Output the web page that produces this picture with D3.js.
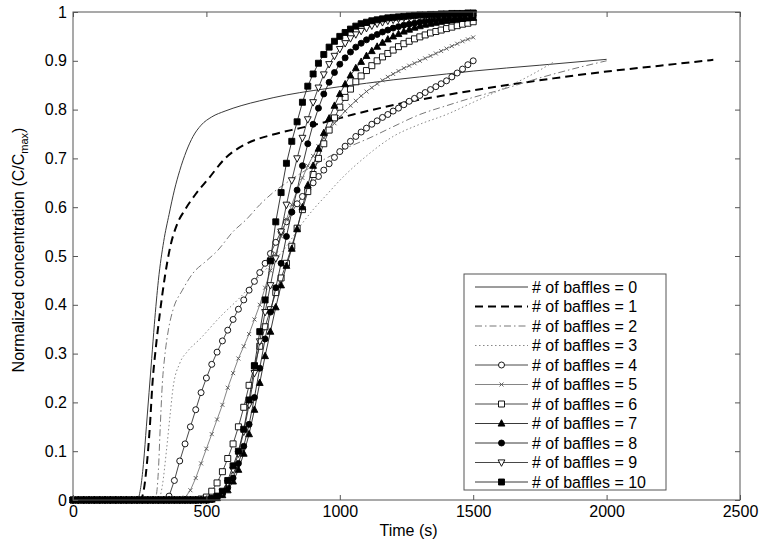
<!DOCTYPE html>
<html><head><meta charset="utf-8">
<script src="https://cdn.jsdelivr.net/npm/d3@7"></script>
<style>body{margin:0;background:#fff} svg{display:block} text{font-family:"Liberation Sans",Arial,Helvetica,sans-serif;fill:#000}</style>
</head><body><svg id="c" width="761" height="541"></svg>
<script>
// ---------- data ----------
const xTicks = [0, 500, 1000, 1500, 2000, 2500];
const yTicks = [0, 0.1, 0.2, 0.3, 0.4, 0.5, 0.6, 0.7, 0.8, 0.9, 1];
const seriesNames = ["# of baffles = 0","# of baffles = 1","# of baffles = 2","# of baffles = 3","# of baffles = 4","# of baffles = 5","# of baffles = 6","# of baffles = 7","# of baffles = 8","# of baffles = 9","# of baffles = 10"];

// line-only series (irregular sampling)
const b0T = [0,230,245,255,265,275,285,295,305,320,340,360,380,400,425,450,480,520,570,630,700,800,900,1000,1100,1200,1300,1400,1500,1750,2000];
const b0C = [0,0,0.005,0.03,0.08,0.15,0.22,0.29,0.36,0.45,0.53,0.585,0.635,0.675,0.715,0.745,0.768,0.785,0.797,0.808,0.818,0.83,0.839,0.847,0.854,0.861,0.867,0.873,0.879,0.891,0.903];
const b1T = [0,245,258,268,278,288,298,310,325,345,365,390,420,460,510,570,650,750,850,950,1050,1150,1250,1400,1600,1800,2000,2200,2400];
const b1C = [0,0,0.005,0.03,0.08,0.15,0.24,0.31,0.38,0.46,0.52,0.565,0.595,0.627,0.66,0.7,0.73,0.749,0.762,0.775,0.79,0.803,0.815,0.83,0.848,0.864,0.878,0.89,0.902];
const b2T = [0,300,312,320,327,335,345,358,375,410,450,500,540,600,650,700,750,800,900,1000,1124,1200,1300,1400,1500,1600,1750,1900,2000];
const b2C = [0,0,0.01,0.06,0.15,0.24,0.3,0.35,0.39,0.43,0.465,0.49,0.51,0.55,0.575,0.605,0.63,0.65,0.685,0.715,0.745,0.765,0.79,0.808,0.825,0.84,0.865,0.887,0.9];
const b3T = [0,320,335,350,365,375,400,430,476,551,626,701,800,850,900,950,1000,1100,1200,1300,1400,1500,1600,1700,1800];
const b3C = [0,0,0.03,0.1,0.18,0.23,0.28,0.305,0.33,0.375,0.415,0.46,0.52,0.56,0.595,0.625,0.655,0.705,0.745,0.77,0.79,0.815,0.84,0.866,0.897];

// marker series, sampled every 20 s from 0 to 1500 s
const time20 = [0,20,40,60,80,100,120,140,160,180,
  200,220,240,260,280,300,320,340,360,380,
  400,420,440,460,480,500,520,540,560,580,
  600,620,640,660,680,700,720,740,760,780,
  800,820,840,860,880,900,920,940,960,980,
  1000,1020,1040,1060,1080,1100,1120,1140,1160,1180,
  1200,1220,1240,1260,1280,1300,1320,1340,1360,1380,
  1400,1420,1440,1460,1480,1500];
const b4C = [0,0,0,0,0,0,0,0,0,0,
  0,0,0,0,0,0,0,0,0.008,0.04,
  0.08,0.115,0.15,0.185,0.22,0.25,0.278,0.303,0.326,0.348,
  0.37,0.391,0.41,0.43,0.448,0.466,0.485,0.505,0.528,0.55,
  0.57,0.59,0.607,0.622,0.637,0.65,0.663,0.676,0.689,0.702,
  0.714,0.725,0.735,0.745,0.754,0.762,0.77,0.777,0.784,0.79,
  0.797,0.803,0.81,0.817,0.823,0.829,0.835,0.841,0.847,0.853,
  0.859,0.867,0.875,0.883,0.892,0.9];
const b5C = [0,0,0,0,0,0,0,0,0,0,
  0,0,0,0,0,0,0,0,0,0,
  0,0.005,0.02,0.045,0.075,0.105,0.135,0.165,0.195,0.23,
  0.26,0.29,0.315,0.34,0.37,0.4,0.435,0.47,0.505,0.54,
  0.575,0.605,0.635,0.66,0.685,0.705,0.725,0.742,0.758,0.772,
  0.785,0.797,0.808,0.818,0.828,0.837,0.845,0.853,0.86,0.867,
  0.873,0.879,0.885,0.89,0.895,0.9,0.905,0.91,0.915,0.92,
  0.925,0.93,0.935,0.94,0.944,0.948];
const b6C = [0,0,0,0,0,0,0,0,0,0,
  0,0,0,0,0,0,0,0,0,0,
  0,0,0,0,0.002,0.006,0.018,0.035,0.058,0.085,
  0.115,0.15,0.19,0.235,0.275,0.315,0.355,0.39,0.425,0.455,
  0.485,0.52,0.557,0.595,0.632,0.667,0.7,0.73,0.758,0.783,
  0.805,0.825,0.842,0.857,0.869,0.88,0.89,0.9,0.908,0.915,
  0.922,0.929,0.935,0.94,0.945,0.949,0.953,0.957,0.96,0.963,
  0.966,0.969,0.972,0.975,0.977,0.98];
const b7C = [0,0,0,0,0,0,0,0,0,0,
  0,0,0,0,0,0,0,0,0,0,
  0,0,0,0,0,0,0.001,0.004,0.01,0.02,
  0.038,0.062,0.095,0.135,0.185,0.24,0.295,0.345,0.395,0.44,
  0.48,0.515,0.555,0.6,0.645,0.685,0.72,0.752,0.782,0.808,
  0.832,0.852,0.87,0.885,0.898,0.91,0.92,0.929,0.937,0.944,
  0.95,0.955,0.96,0.964,0.968,0.971,0.974,0.976,0.978,0.98,
  0.982,0.983,0.985,0.986,0.987,0.988];
const b8C = [0,0,0,0,0,0,0,0,0,0,
  0,0,0,0,0,0,0,0,0,0,
  0,0,0,0,0,0,0.001,0.005,0.012,0.025,
  0.045,0.075,0.11,0.155,0.21,0.27,0.33,0.385,0.435,0.485,
  0.54,0.59,0.635,0.685,0.73,0.77,0.803,0.832,0.856,0.876,
  0.893,0.906,0.918,0.928,0.936,0.943,0.949,0.954,0.959,0.963,
  0.967,0.97,0.973,0.975,0.977,0.979,0.981,0.982,0.984,0.985,
  0.986,0.987,0.988,0.989,0.99,0.99];
const b9C = [0,0,0,0,0,0,0,0,0,0,
  0,0,0,0,0,0,0,0,0,0,
  0,0,0,0,0,0,0.002,0.007,0.016,0.035,
  0.062,0.095,0.14,0.195,0.26,0.325,0.385,0.44,0.495,0.55,
  0.605,0.655,0.7,0.742,0.78,0.815,0.845,0.872,0.893,0.91,
  0.924,0.936,0.946,0.954,0.961,0.967,0.972,0.976,0.979,0.982,
  0.984,0.986,0.988,0.989,0.99,0.991,0.992,0.993,0.993,0.994,
  0.995,0.995,0.996,0.996,0.996,0.997];
const b10C = [0,0,0,0,0,0,0,0,0,0,
  0,0,0,0,0,0,0,0,0,0,
  0,0,0,0,0,0,0.003,0.008,0.018,0.04,
  0.07,0.1,0.145,0.205,0.275,0.345,0.41,0.49,0.57,0.63,
  0.69,0.735,0.775,0.815,0.848,0.873,0.895,0.913,0.928,0.94,
  0.95,0.958,0.965,0.971,0.976,0.979,0.982,0.984,0.986,0.988,
  0.989,0.99,0.991,0.992,0.993,0.994,0.994,0.995,0.995,0.996,
  0.996,0.997,0.997,0.997,0.998,0.998];

// ---------- chart ----------
const svg = d3.select("#c");
const L = 73, R = 740, T = 12, B = 500;
const x = d3.scaleLinear().domain([0, 2500]).range([L, R]);
const y = d3.scaleLinear().domain([0, 1]).range([B, T]);

const pts = (ts, cs) => cs.map((c, i) => [ts[i], c]).filter(d => d[0] !== undefined);

const series = [
  {data: pts(b0T, b0C), stroke: "#3a3a3a", width: 1, dash: null, curve: d3.curveMonotoneX},
  {data: pts(b1T, b1C), stroke: "#000", width: 2, dash: "8,5", curve: d3.curveMonotoneX},
  {data: pts(b2T, b2C), stroke: "#777", width: 1, dash: "7,3,1.5,3", curve: d3.curveMonotoneX},
  {data: pts(b3T, b3C), stroke: "#888", width: 1, dash: "1.5,2.5", curve: d3.curveMonotoneX},
  {data: pts(time20, b4C), stroke: "#333", width: 0.9, marker: "circle", fill: "#fff"},
  {data: pts(time20, b5C), stroke: "#777", width: 0.9, marker: "x", fill: "none"},
  {data: pts(time20, b6C), stroke: "#333", width: 0.9, marker: "square", fill: "#fff"},
  {data: pts(time20, b7C), stroke: "#222", width: 0.9, marker: "triUp", fill: "#000"},
  {data: pts(time20, b8C), stroke: "#222", width: 0.9, marker: "circle", fill: "#000"},
  {data: pts(time20, b9C), stroke: "#333", width: 0.9, marker: "triDown", fill: "#fff"},
  {data: pts(time20, b10C), stroke: "#222", width: 0.9, marker: "square", fill: "#000"}
];

function markerPath(type) {
  switch (type) {
    case "circle": return "M3,0A3,3 0 1,1 -3,0A3,3 0 1,1 3,0Z";
    case "square": return "M-3,-3H3V3H-3Z";
    case "triUp": return "M0,-3.8L3.4,2.6H-3.4Z";
    case "triDown": return "M0,3.8L3.4,-2.6H-3.4Z";
    case "x": return "M-2,-2L2,2M-2,2L2,-2";
  }
}

svg.append("rect").attr("x", L).attr("y", T).attr("width", R - L).attr("height", B - T)
  .attr("fill", "#fff").attr("stroke", "none");

const plot = svg.append("g");
series.forEach(s => {
  const line = d3.line().x(d => x(d[0])).y(d => y(d[1])).curve(s.curve || d3.curveLinear);
  plot.append("path").attr("d", line(s.data)).attr("fill", "none")
    .attr("stroke", s.stroke).attr("stroke-width", s.width)
    .attr("stroke-dasharray", s.dash);
  if (s.marker) {
    plot.selectAll(null).data(s.data).enter().append("path")
      .attr("transform", d => `translate(${x(d[0])},${y(d[1])})`)
      .attr("d", markerPath(s.marker))
      .attr("fill", s.fill).attr("stroke", s.marker === "x" ? "#555" : "#000")
      .attr("stroke-width", 0.9);
  }
});

const axCol = "#555";
const fs = "16px";
const gB = svg.append("g").attr("transform", `translate(0,${B})`)
  .call(d3.axisBottom(x).tickValues(xTicks).tickFormat(d3.format("d")).tickSizeInner(-5).tickSizeOuter(0).tickPadding(6));
const gT = svg.append("g").attr("transform", `translate(0,${T})`)
  .call(d3.axisTop(x).tickValues(xTicks).tickFormat("").tickSizeInner(-5).tickSizeOuter(0));
const gL = svg.append("g").attr("transform", `translate(${L},0)`)
  .call(d3.axisLeft(y).tickValues(yTicks).tickFormat(d => d === 0 ? "0" : d === 1 ? "1" : d3.format(".1f")(d)).tickSizeInner(-5).tickSizeOuter(0).tickPadding(6));
const gR = svg.append("g").attr("transform", `translate(${R},0)`)
  .call(d3.axisRight(y).tickValues(yTicks).tickFormat("").tickSizeInner(-5).tickSizeOuter(0));
[gB, gT, gL, gR].forEach(g => {
  g.select(".domain").remove();
  g.selectAll(".tick line").attr("stroke", axCol);
  g.selectAll("text").attr("font-size", fs).attr("font-family", "Liberation Sans, Arial, sans-serif").attr("fill", "#000");
});
svg.append("rect").attr("x", L).attr("y", T).attr("width", R - L).attr("height", B - T)
  .attr("fill", "none").attr("stroke", axCol).attr("stroke-width", 1);

// axis titles
svg.append("text").attr("x", (L + R) / 2 + 2).attr("y", 536).attr("text-anchor", "middle")
  .attr("font-size", "16px").text("Time (s)");
const yl = svg.append("text").attr("transform", `translate(24,250) rotate(-90)`)
  .attr("text-anchor", "middle").attr("font-size", "16px");
yl.append("tspan").text("Normalized concentration (C/C");
yl.append("tspan").attr("font-size", "11px").attr("dy", 4).text("max");
yl.append("tspan").attr("dy", -4).text(")");

// legend
const lg = svg.append("g");
const lgX = 464, lgY = 274, lgW = 202, lgH = 216, rowH = 19.5;
lg.append("rect").attr("x", lgX).attr("y", lgY).attr("width", lgW).attr("height", lgH)
  .attr("fill", "#fff").attr("stroke", axCol).attr("stroke-width", 1);
series.forEach((s, i) => {
  const cy = lgY + 13 + i * rowH;
  lg.append("line").attr("x1", lgX + 11).attr("x2", lgX + 64).attr("y1", cy).attr("y2", cy)
    .attr("stroke", s.stroke).attr("stroke-width", s.width).attr("stroke-dasharray", s.dash);
  if (s.marker) {
    lg.append("path").attr("transform", `translate(${lgX + 37.5},${cy})`).attr("d", markerPath(s.marker))
      .attr("fill", s.fill).attr("stroke", s.marker === "x" ? "#555" : "#000").attr("stroke-width", 0.9);
  }
  lg.append("text").attr("x", lgX + 68).attr("y", cy).attr("dy", "0.35em")
    .attr("font-size", "16px").text(seriesNames[i]);
});
</script></body></html>
